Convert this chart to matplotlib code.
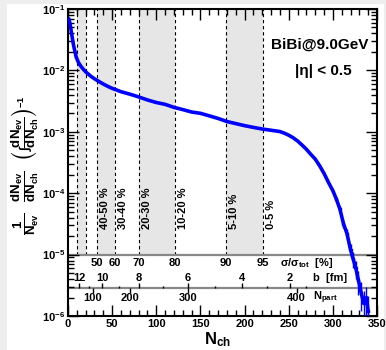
import matplotlib
matplotlib.use('Agg')
import matplotlib.pyplot as plt
from matplotlib.patches import Rectangle
import matplotlib.ticker as mticker

plt.rcParams['font.family'] = ['Liberation Sans', 'DejaVu Sans']
plt.rcParams['font.weight'] = 'bold'
plt.rcParams['mathtext.fontset'] = 'custom'
plt.rcParams['mathtext.rm'] = 'Liberation Sans:bold'
plt.rcParams['mathtext.it'] = 'Liberation Sans:bold'
plt.rcParams['mathtext.bf'] = 'Liberation Sans:bold'
plt.rcParams['mathtext.sf'] = 'Liberation Sans:bold'
plt.rcParams['mathtext.fallback'] = 'stixsans'

# ---------------- data ----------------
nch = [1, 2, 3, 4, 5, 6, 7, 8, 9, 10, 12, 14, 16, 18, 20, 23, 26, 30, 35, 40,
       45, 50, 55, 60, 65, 70, 75, 80, 90, 100, 110, 120, 130, 140, 150, 160,
       170, 180, 190, 200, 210, 220, 230, 240, 245, 250, 255, 260, 265, 270,
       275, 280, 285, 290, 295, 300, 304, 308, 312, 316, 320, 323, 326, 329,
       332, 335, 338, 340]
frac = [0.068, 0.060, 0.050, 0.040, 0.033, 0.027, 0.023, 0.020, 0.017, 0.0155,
        0.0133, 0.0120, 0.0110, 0.0102, 0.0095, 0.0087, 0.0080, 0.0073, 0.0066,
        0.0060, 0.0055, 0.0051, 0.0048, 0.0045, 0.0043, 0.0041, 0.0039, 0.0037,
        0.0033, 0.0030, 0.0028, 0.0025, 0.0023, 0.0021, 0.0020, 0.00182, 0.00165,
        0.00147, 0.00136, 0.00126, 0.00118, 0.00111, 0.00106, 0.00101, 0.00095,
        0.00088, 0.00080, 0.00071, 0.00061, 0.00052, 0.00043, 0.00036, 0.00028,
        0.00021, 0.00015, 0.00011, 8.0e-5, 5.5e-5, 3.2e-5, 2.2e-5, 1.2e-5,
        8.5e-6, 6.0e-6, 3.8e-6, 2.4e-6, 1.6e-6, 2.0e-6, 1.2e-6]
frac_err = [0] * 56 + [6e-6, 6e-6, 5e-6, 4e-6, 3e-6, 2.5e-6, 2e-6, 1.6e-6,
                       1.2e-6, 1.0e-6, 1.0e-6, 0.9e-6]

cut_pos = [10, 20, 33, 53, 80, 121, 179, 221]
band_lo = [10, 33, 80, 179]
band_hi = [20, 53, 121, 221]
cent_labels = ['40-50 %', '30-40 %', '20-30 %', '10-20 %', '5-10 %', '0-5 %']
cent_pos = [33, 53, 80, 121, 179, 221]
sig_labels = ['50', '60', '70', '80', '90', '95']
sig_pos = [33, 53, 80, 121, 179, 221]
b_labels = ['12', '10', '8', '6', '4', '2']
b_pos = [12.5, 38.5, 80.4, 135.9, 197, 251]
b_minor_pos = [23.8, 57.8, 107.6, 166.5, 225, 270]
npart_labels = ['100', '200', '300', '400']
npart_pos = [28, 70, 136, 259]

# ---------------- figure ----------------
W, H = 386, 350
fig = plt.figure(figsize=(W / 100, H / 100), dpi=100)
fig.patch.set_facecolor('#eeeeee')
fig.add_artist(Rectangle((7 / W, 0), (384 - 7) / W, 346 / H,
                         transform=fig.transFigure, facecolor='white',
                         edgecolor='none', zorder=0))

ax = fig.add_axes([68 / W, (H - 316) / H, (377 - 68) / W, (316 - 9) / H])
ax.set_facecolor('white')
ax.set_yscale('log')
ax.set_xlim(0, 350)
ax.set_ylim(1e-6, 1e-1)

tr = ax.get_xaxis_transform()
for lo, hi in zip(band_lo, band_hi):
    ax.axvspan(lo, hi, ymin=0.2, ymax=1.0, color='#e6e6e6', lw=0, zorder=0.5)
ax.vlines(cut_pos, 0.2, 1.0, transform=tr, colors='black',
          linestyles=(0, (3, 2.5)), lw=0.8, zorder=1)

ax.axhline(1e-5, color='#888888', lw=1.6, zorder=1.5)
ax.axhline(10 ** (-6 + 0.0912 * 5), color='#888888', lw=1.6, zorder=1.5)

for lab, x in zip(cent_labels, cent_pos):
    ax.text(x + 9, 0.285, lab, transform=tr, rotation=90, ha='center',
            va='bottom', fontsize=8)
for lab, x in zip(sig_labels, sig_pos):
    ax.text(x, 0.1726, lab, transform=tr, ha='center', va='center', fontsize=8)
ax.text(240, 0.1726, r'$\sigma/\sigma_{tot}$  [%]', transform=tr, ha='left',
        va='center', fontsize=8)

ax.vlines(b_pos, 0.0912, 0.1075, transform=tr, colors='black', lw=1)
ax.vlines(b_minor_pos, 0.0912, 0.0993, transform=tr, colors='black', lw=1)
for lab, x in zip(b_labels, b_pos):
    ax.text(x, 0.1238, lab, transform=tr, ha='center', va='center', fontsize=8)
ax.text(277, 0.1238, 'b  [fm]', transform=tr, ha='left', va='center', fontsize=8)

ax.vlines(npart_pos, 0.075, 0.0912, transform=tr, colors='black', lw=1)
for lab, x in zip(npart_labels, npart_pos):
    ax.text(x, 0.0586, lab, transform=tr, ha='center', va='center', fontsize=8)
ax.text(277, 0.0586, r'$N_{part}$', transform=tr, ha='left', va='center',
        fontsize=8)

ax.plot(nch, frac, color='#0000ff', lw=2.6, zorder=3)
tn = [n for n, e in zip(nch, frac_err) if e > 0]
ty = [v for v, e in zip(frac, frac_err) if e > 0]
te = [e for e in frac_err if e > 0]
ax.errorbar(tn, ty, yerr=te, fmt='s', ms=2, color='#0000ff', elinewidth=1,
            capsize=0, zorder=3)

ax.text(285, 0.883, 'BiBi@9.0GeV', transform=tr, ha='center', va='center',
        fontsize=11)
ax.text(289, 0.798, '|η| < 0.5', transform=tr, ha='center', va='center',
        fontsize=11)

ax.xaxis.set_major_locator(mticker.MultipleLocator(50))
ax.xaxis.set_minor_locator(mticker.MultipleLocator(10))
ax.yaxis.set_major_locator(mticker.LogLocator(base=10, numticks=10))
ax.yaxis.set_minor_locator(mticker.LogLocator(base=10, subs=range(2, 10), numticks=20))
ax.yaxis.set_minor_formatter(mticker.NullFormatter())
ax.tick_params(which='both', direction='in', top=True, right=True, width=1,
               labelsize=8, pad=2)
ax.tick_params(which='major', length=8)
ax.tick_params(which='minor', length=4)
for s in ax.spines.values():
    s.set_linewidth(1.5)

ax.set_xlabel(r'$N_{ch}$', fontsize=12)
ax.xaxis.set_label_coords(0.485, -0.045)
ax.set_ylabel(r'$\dfrac{1}{N_{ev}}\quad\dfrac{dN_{ev}}{dN_{ch}}\quad\left(\int\dfrac{dN_{ev}}{dN_{ch}}\right)^{-1}$',
              fontsize=9.5, va='center')
ax.yaxis.set_label_coords(-0.136, 0.49)

fig.savefig('out.png', dpi=100, facecolor=fig.get_facecolor())
